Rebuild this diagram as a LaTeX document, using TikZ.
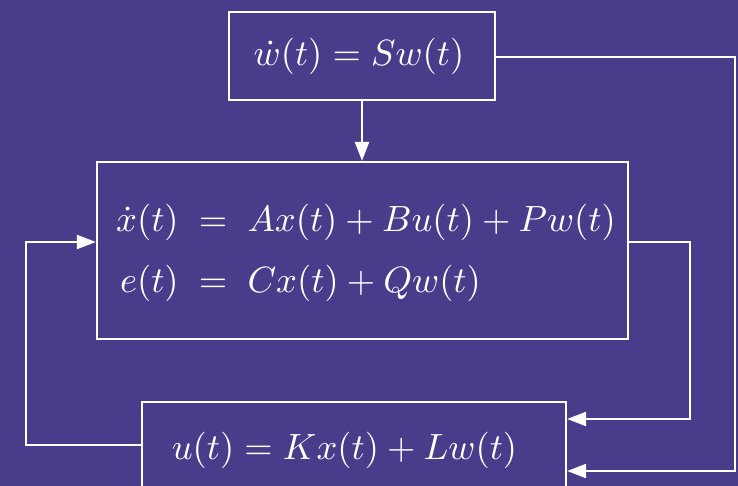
\documentclass[tikz,border=0pt]{standalone}
\usepackage{amsmath}
\usetikzlibrary{arrows.meta}
\definecolor{bgpurple}{RGB}{72,61,139}
\newcommand{\bigeqn}[1]{\scalebox{3.65}{$#1$}}
\begin{document}
\begin{tikzpicture}[x=1pt,y=-1pt,
  box/.style={draw=white, line width=2.3pt, rectangle, inner sep=0pt},
  eq/.style={text=white, inner sep=0pt},
  conn/.style={draw=white, line width=2.3pt, -{Triangle[length=19pt,width=14pt]}}]
\fill[bgpurple] (0,0) rectangle (738,486);
\useasboundingbox (0,0) rectangle (738,486);
% boxes
\node[box, minimum width=266pt, minimum height=88pt] (sys) at (362,56) {};
\node[box, minimum width=531pt, minimum height=177pt] (plant) at (362.5,250.5) {};
\node[box, minimum width=424pt, minimum height=96pt] (ctrl) at (354,450) {};
% texts
\node[eq] (t1) at (359,56) {\bigeqn{\dot w(t) = Sw(t)}};
\node[eq] (t2) at (366,250) {\bigeqn{\renewcommand{\arraystretch}{1.4}\begin{array}{@{}r@{\;\;}c@{\;\;}l@{}}
 \dot x(t) & = & Ax(t)+Bu(t)+Pw(t)\\
 e(t) & = & Cx(t)+Qw(t)
\end{array}}};
\node[eq] (t3) at (344.5,450) {\bigeqn{u(t) = Kx(t) + Lw(t)}};
% routing points
\coordinate (k1) at (735,471);
\coordinate (k2a) at (690,242);
\coordinate (k2) at (690,419);
\coordinate (k3) at (26,445);
\coordinate (k3b) at (26,242);
% connectors
\draw[conn] (sys.east |- 0,57) -| (k1) -- (k1 -| ctrl.east);
\draw[conn] (sys.south) -- (sys.south |- plant.north);
\draw[conn] (plant.east |- k2a) -- (k2a) -- (k2) -- (k2 -| ctrl.east);
\draw[conn] (ctrl.west |- k3) -- (k3) -- (k3b) -- (k3b -| plant.west);
\end{tikzpicture}
\end{document}
